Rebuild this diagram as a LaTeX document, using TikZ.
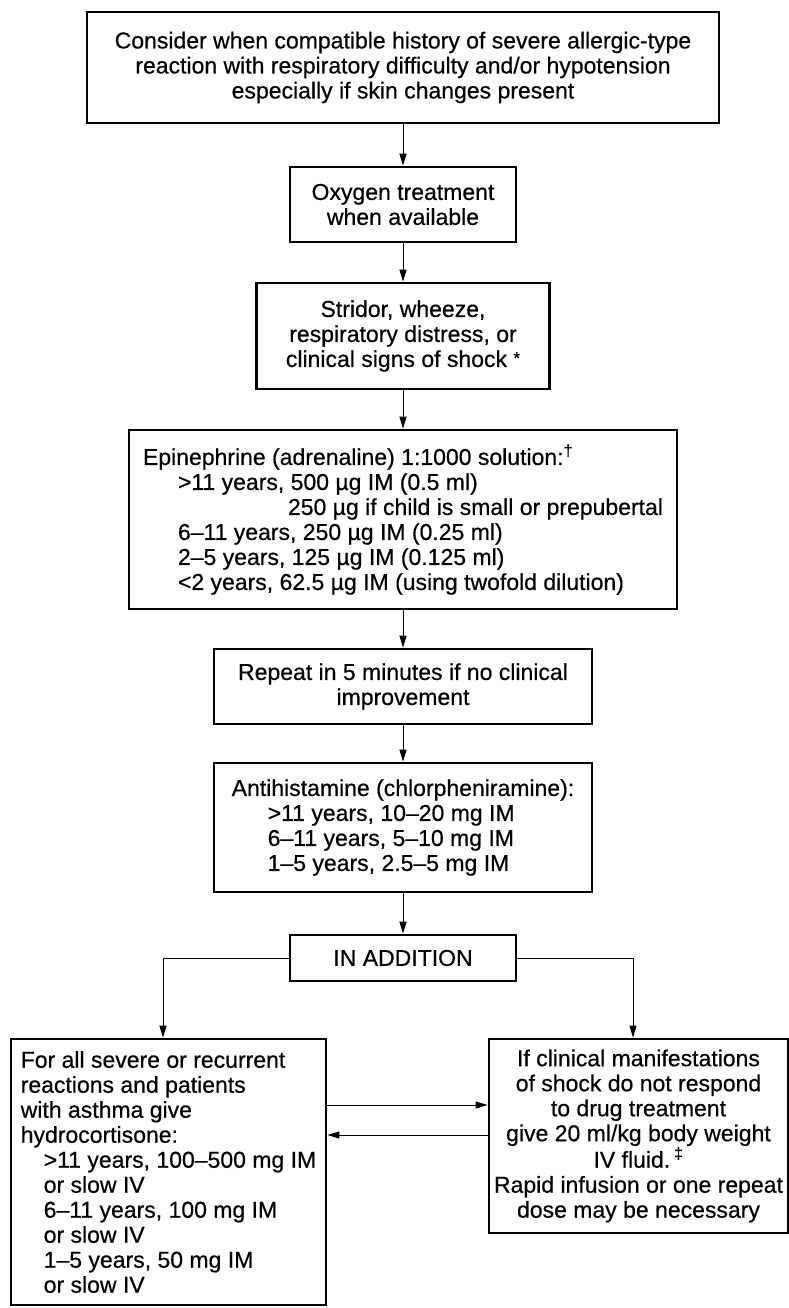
\documentclass[tikz,border=0pt]{standalone}
\usepackage{fontspec}
\setmainfont{Liberation Sans}[FakeBold=0.5]
\usetikzlibrary{arrows.meta}
\begin{document}
\begin{tikzpicture}[x=1pt,y=-1pt,
  box/.style={draw, line width=2.8pt, inner sep=0pt, font=\fontsize{23}{25}\selectfont},
  arr/.style={line width=1pt, -{Triangle[length=12pt,width=7pt]}}]
\useasboundingbox[fill=white] (0,0) rectangle (789,1308);
\node[box, minimum width=632, minimum height=111, align=center] (top) at (403,67.5)
  {Consider when compatible history of severe allergic-type\\reaction with respiratory difficulty and/or hypotension\\especially if skin changes present};
\node[box, minimum width=226, minimum height=75, align=center] (oxy) at (403,204.5)
  {Oxygen treatment\\when available};
\node[box, minimum width=293, minimum height=106, align=center] (str) at (403,336)
  {Stridor, wheeze,\\respiratory distress, or\\clinical signs of shock \raisebox{3pt}{\fontsize{17}{17}\selectfont *}};
\node[box, minimum width=548, minimum height=179, align=left] (epi) at (403,519.5)
  {Epinephrine (adrenaline) 1:1000 solution:\textsuperscript{†}\\
   \hspace*{35pt}>11 years, 500 µg IM (0.5 ml)\\
   \hspace*{145pt}250 µg if child is small or prepubertal\\
   \hspace*{35pt}6–11 years, 250 µg IM (0.25 ml)\\
   \hspace*{35pt}2–5 years, 125 µg IM (0.125 ml)\\
   \hspace*{35pt}<2 years, 62.5 µg IM (using twofold dilution)};
\node[box, minimum width=378, minimum height=75, align=center] (rep) at (403,686.5)
  {Repeat in 5 minutes if no clinical\\improvement};
\node[box, minimum width=378, minimum height=129, align=left] (anti) at (403,827.5)
  {Antihistamine (chlorpheniramine):\\
   \hspace*{36pt}>11 years, 10–20 mg IM\\
   \hspace*{36pt}6–11 years, 5–10 mg IM\\
   \hspace*{36pt}1–5 years, 2.5–5 mg IM};
\node[box, minimum width=226, minimum height=46, align=center] (add) at (403,958)
  {IN ADDITION};
\node[box, minimum width=315, minimum height=266, align=left] (hyd) at (168.5,1172)
  {For all severe or recurrent\\
   reactions and patients\\
   with asthma give\\
   hydrocortisone:\\
   \hspace*{23pt}>11 years, 100–500 mg IM\\
   \hspace*{23pt}or slow IV\\
   \hspace*{23pt}6–11 years, 100 mg IM\\
   \hspace*{23pt}or slow IV\\
   \hspace*{23pt}1–5 years, 50 mg IM\\
   \hspace*{23pt}or slow IV};
\node[box, minimum width=299, minimum height=194, align=center] (flu) at (638.5,1136)
  {If clinical manifestations\\of shock do not respond\\to drug treatment\\give 20 ml/kg body weight\\IV fluid.\,\textsuperscript{‡}\\Rapid infusion or one repeat\\dose may be necessary};
\coordinate (lx) at (163,0);
\coordinate (rx) at (633,0);
\coordinate (ya) at (0,1105);
\coordinate (yb) at (0,1135);
\draw[arr] (top) -- (oxy);
\draw[arr] (oxy) -- (str);
\draw[arr] (str) -- (epi);
\draw[arr] (epi) -- (rep);
\draw[arr] (rep) -- (anti);
\draw[arr] (anti) -- (add);
\draw[arr] (add.west) -| (lx |- hyd.north);
\draw[arr] (add.east) -| (rx |- flu.north);
\draw[arr] (hyd.east |- ya) -- (flu.west |- ya);
\draw[arr] (flu.west |- yb) -- (hyd.east |- yb);
\end{tikzpicture}
\end{document}
